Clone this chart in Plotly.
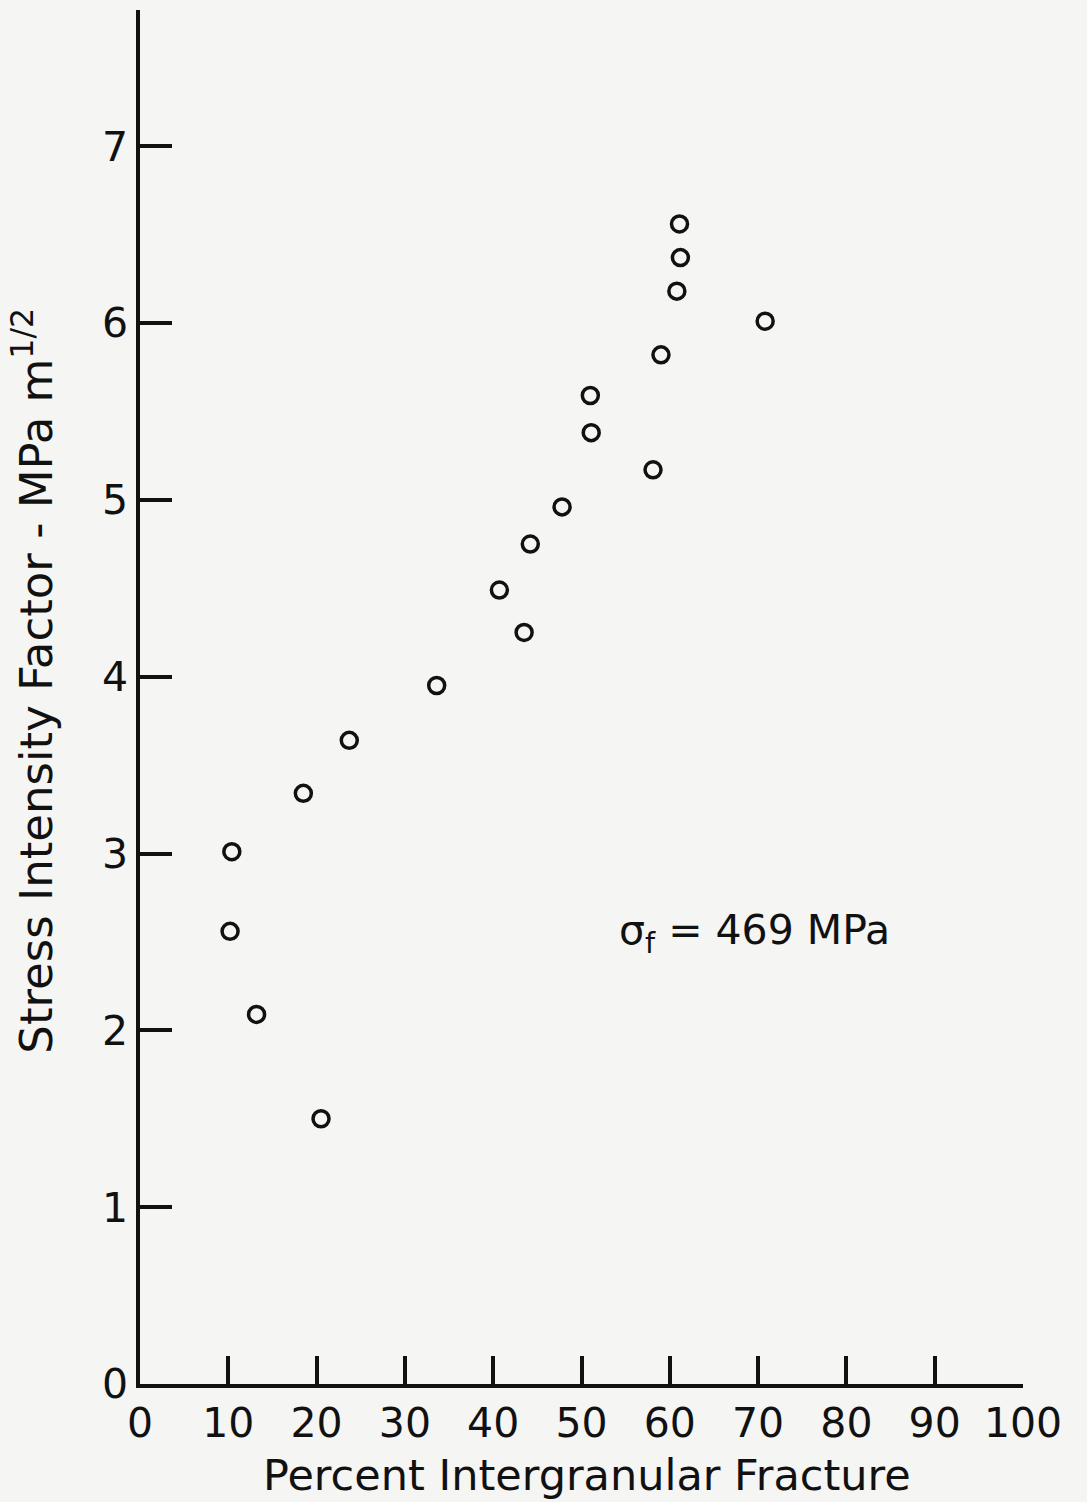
import plotly.graph_objects as go

# Data
pct_intergranular = [10.2, 10.4, 13.2, 20.5, 18.5, 23.7, 33.6, 40.7, 43.5, 44.2,
                     47.8, 51.0, 51.1, 58.1, 59.0, 60.8, 61.2, 61.1, 70.8]
stress_intensity = [2.56, 3.01, 2.09, 1.50, 3.34, 3.64, 3.95, 4.49, 4.25, 4.75,
                    4.96, 5.59, 5.38, 5.17, 5.82, 6.18, 6.37, 6.56, 6.01]

x_ticks = [0, 10, 20, 30, 40, 50, 60, 70, 80, 90, 100]
x_ticklabels = ["0", "10", "20", "30", "40", "50", "60", "70", "80", "90", "100"]
y_ticks = [0, 1, 2, 3, 4, 5, 6, 7]
y_ticklabels = ["0", "1", "2", "3", "4", "5", "6", "7"]

x_title = "Percent Intergranular Fracture"
y_title = "Stress Intensity Factor - MPa m<sup>1/2</sup>"
annotation_text = "σ<sub>f</sub> = 469 MPa"
annotation_pos = (69.6, 2.55)

FONT = "'DejaVu Sans', Verdana, sans-serif"
INK = "#111111"
BG = "#f5f5f3"

fig = go.Figure()
fig.add_trace(go.Scatter(
    x=pct_intergranular, y=stress_intensity, mode="markers",
    marker=dict(symbol="circle-open", size=16, color=INK,
                line=dict(width=3.5, color=INK)),
    showlegend=False, hoverinfo="skip",
))

fig.add_annotation(
    x=annotation_pos[0], y=annotation_pos[1], text=annotation_text,
    showarrow=False, font=dict(family=FONT, size=41, color=INK),
    xanchor="center", yanchor="middle",
)

# axis titles placed as annotations to match the reference positions
fig.add_annotation(
    xref="paper", yref="paper", x=0.506, y=-0.066, text=x_title,
    showarrow=False, font=dict(family=FONT, size=43, color=INK),
    xanchor="center", yanchor="middle",
)
fig.add_annotation(
    xref="paper", yref="paper", x=-0.121, y=0.512, text=y_title,
    showarrow=False, textangle=-90, font=dict(family=FONT, size=45, color=INK),
    xanchor="center", yanchor="middle",
)

fig.update_layout(
    width=1087, height=1502,
    margin=dict(l=140, r=64, t=10, b=118),
    paper_bgcolor=BG, plot_bgcolor=BG,
    font=dict(family=FONT, color=INK),
    xaxis=dict(
        range=[0, 100], tickvals=x_ticks, ticktext=x_ticklabels,
        showline=True, linecolor=INK, linewidth=3.5,
        ticks="inside", ticklen=28, tickwidth=3.5, tickcolor=INK,
        showgrid=False, zeroline=False,
        tickfont=dict(family=FONT, size=41, color=INK),
    ),
    yaxis=dict(
        range=[0, 7.77], tickvals=y_ticks, ticktext=y_ticklabels,
        showline=True, linecolor=INK, linewidth=3.5,
        ticks="inside", ticklen=32, tickwidth=3.5, tickcolor=INK,
        showgrid=False, zeroline=False,
        tickfont=dict(family=FONT, size=41, color=INK),
    ),
)

fig.write_html("out.html")
